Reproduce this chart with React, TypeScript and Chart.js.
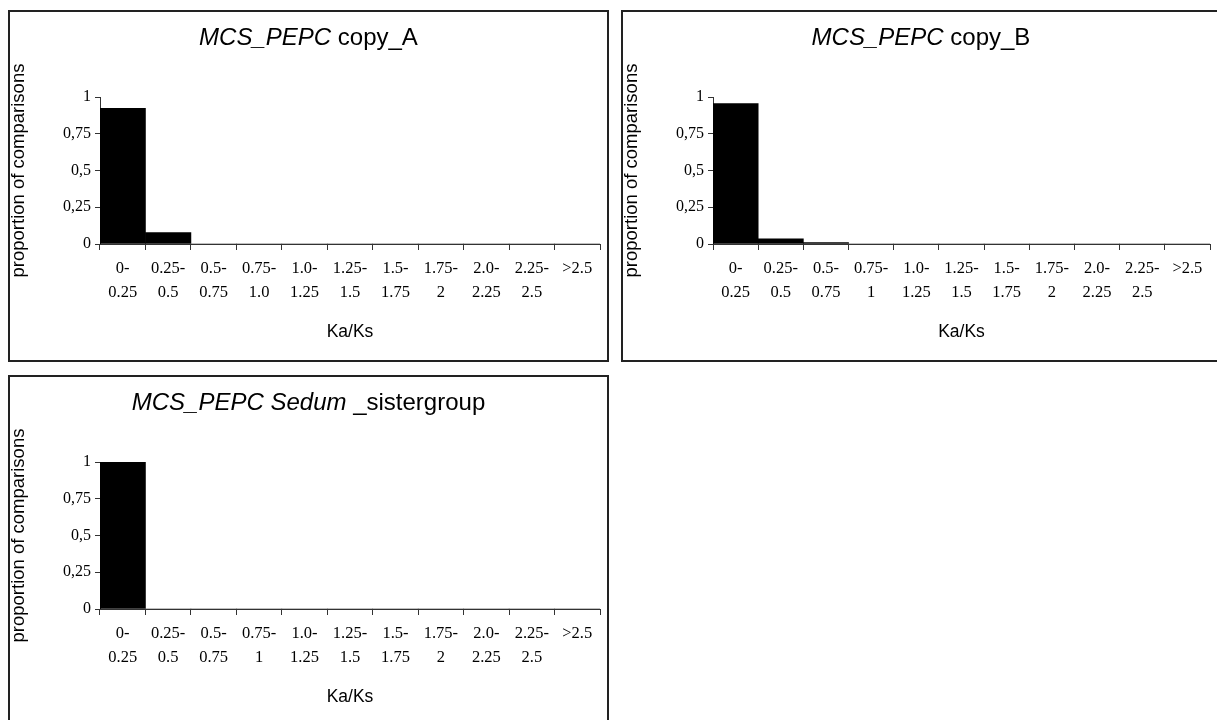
import React, { useEffect, useRef } from "react";
import { Chart, registerables } from "chart.js";

Chart.register(...registerables);

// ---- data ----
const categoriesA: string[][] = [
  ["0-", "0.25"], ["0.25-", "0.5"], ["0.5-", "0.75"], ["0.75-", "1.0"], ["1.0-", "1.25"],
  ["1.25-", "1.5"], ["1.5-", "1.75"], ["1.75-", "2"], ["2.0-", "2.25"], ["2.25-", "2.5"], [">2.5"],
];
const categoriesBC: string[][] = [
  ["0-", "0.25"], ["0.25-", "0.5"], ["0.5-", "0.75"], ["0.75-", "1"], ["1.0-", "1.25"],
  ["1.25-", "1.5"], ["1.5-", "1.75"], ["1.75-", "2"], ["2.0-", "2.25"], ["2.25-", "2.5"], [">2.5"],
];
const copyAValues = [0.923, 0.077, 0, 0, 0, 0, 0, 0, 0, 0, 0];
const copyBValues = [0.955, 0.035, 0.01, 0, 0, 0, 0, 0, 0, 0, 0];
const sisterValues = [1, 0, 0, 0, 0, 0, 0, 0, 0, 0, 0];
const yTickLabels = ["0", "0,25", "0,5", "0,75", "1"];
const titleA = [{ text: "MCS_PEPC", italic: true }, { text: " copy_A", italic: false }];
const titleB = [{ text: "MCS_PEPC", italic: true }, { text: " copy_B", italic: false }];
const titleC = [{ text: "MCS_PEPC Sedum ", italic: true }, { text: "_sistergroup", italic: false }];
const xAxisTitle = "Ka/Ks";
const yAxisTitle = "proportion of comparisons";

type Seg = { text: string; italic: boolean };

const SANS = '"Liberation Sans", Arial, sans-serif';
const SERIF = '"Liberation Serif", "Times New Roman", serif';

function makeTitlePlugin(segs: Seg[]) {
  return {
    id: "richTitle",
    afterDraw(chart: any) {
      const ctx = chart.ctx as CanvasRenderingContext2D;
      const size = 24;
      const y = 26;
      ctx.save();
      ctx.textBaseline = "middle";
      ctx.fillStyle = "#000";
      let total = 0;
      const widths = segs.map((s) => {
        ctx.font = `${s.italic ? "italic " : ""}${size}px ${SANS}`;
        const w = ctx.measureText(s.text).width;
        total += w;
        return w;
      });
      let x = chart.width / 2 - total / 2;
      segs.forEach((s, i) => {
        ctx.font = `${s.italic ? "italic " : ""}${size}px ${SANS}`;
        ctx.textAlign = "left";
        ctx.fillText(s.text, x, y);
        x += widths[i];
      });
      ctx.restore();
    },
  };
}

type PanelProps = {
  left: number;
  top: number;
  width: number;
  height: number;
  categories: string[][];
  values: number[];
  title: Seg[];
  rightPad: number;
};

function Panel({ left, top, width, height, categories, values, title, rightPad }: PanelProps) {
  const ref = useRef<HTMLCanvasElement | null>(null);
  const cw = width - 4;
  const ch = height - 4;
  useEffect(() => {
    if (!ref.current) return;
    const axisColor = "#333";
    const chart = new Chart(ref.current, {
      type: "bar",
      data: {
        labels: categories,
        datasets: [
          {
            data: values,
            backgroundColor: "#000",
            borderWidth: 0,
            categoryPercentage: 1,
            barPercentage: 1,
          },
        ],
      },
      options: {
        animation: false,
        responsive: false,
        events: [],
        layout: { padding: { top: 85, left: 0, right: rightPad, bottom: ch - 232 - 99 } },
        plugins: { legend: { display: false }, title: { display: false }, tooltip: { enabled: false } },
        scales: {
          x: {
            afterFit: (s: any) => {
              s.height = 99;
            },
            grid: {
              offset: true,
              drawOnChartArea: false,
              drawTicks: true,
              tickLength: 6,
              color: axisColor,
              lineWidth: 1,
            },
            border: { display: true, color: axisColor, width: 1 },
            ticks: {
              color: "#000",
              padding: 7,
              maxRotation: 0,
              autoSkip: false,
              font: { family: SERIF, size: 16.5, lineHeight: 1.45 },
            },
            title: {
              display: true,
              text: xAxisTitle,
              color: "#000",
              padding: 0,
              font: { family: SANS, size: 17.5, lineHeight: 1.2 },
            },
          },
          y: {
            min: 0,
            max: 1,
            afterFit: (s: any) => {
              s.width = 90;
            },
            grid: {
              drawOnChartArea: false,
              drawTicks: true,
              tickLength: 5,
              color: axisColor,
              lineWidth: 1,
            },
            border: { display: true, color: axisColor, width: 1 },
            ticks: {
              stepSize: 0.25,
              color: "#000",
              padding: 4,
              font: { family: SERIF, size: 16 },
              callback: (_v: any, i: number) => yTickLabels[i],
            },
            title: {
              display: true,
              text: yAxisTitle,
              color: "#000",
              padding: 0,
              font: { family: SANS, size: 18.5, lineHeight: 1 },
            },
          },
        },
      },
      plugins: [makeTitlePlugin(title)],
    } as any);
    return () => chart.destroy();
  }, []);
  return (
    <div
      style={{
        position: "absolute",
        left,
        top,
        width,
        height,
        boxSizing: "border-box",
        border: "2px solid #222",
        background: "#fff",
      }}
    >
      <canvas ref={ref} width={cw} height={ch} style={{ display: "block", width: cw, height: ch }} />
    </div>
  );
}

export default function App() {
  return (
    <div
      style={{
        position: "fixed",
        left: 0,
        top: 0,
        width: 1217,
        height: 720,
        overflow: "hidden",
        background: "#fff",
      }}
    >
      <Panel left={8} top={10} width={601} height={352} categories={categoriesA} values={copyAValues} title={titleA} rightPad={7} />
      <Panel left={621} top={10} width={600} height={352} categories={categoriesBC} values={copyBValues} title={titleB} rightPad={9} />
      <Panel left={8} top={375} width={601} height={352} categories={categoriesBC} values={sisterValues} title={titleC} rightPad={7} />
    </div>
  );
}
